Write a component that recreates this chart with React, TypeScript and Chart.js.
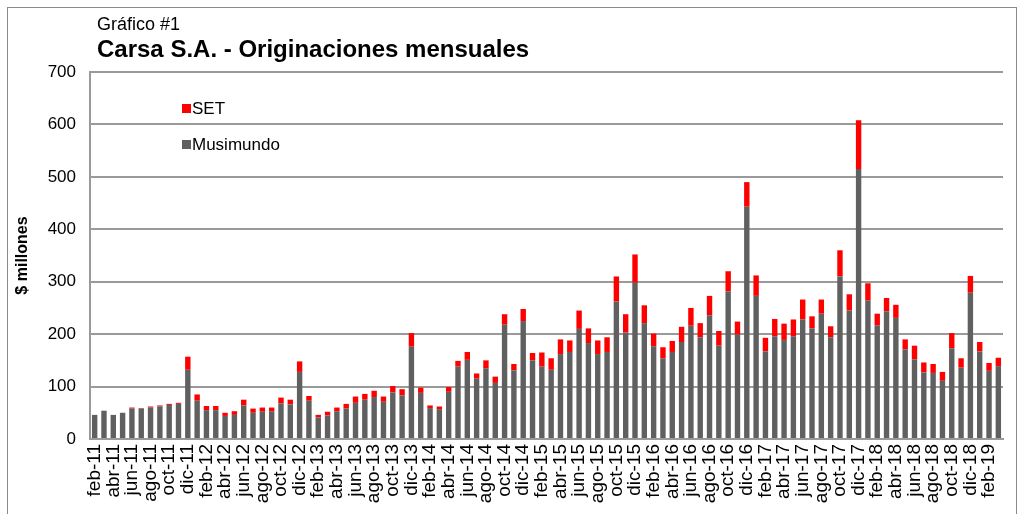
import React, { useEffect, useRef } from "react";
import { Chart, registerables } from "chart.js";

Chart.register(...registerables);

const months: string[] = [
  "feb-11","mar-11","abr-11","may-11","jun-11","jul-11","ago-11","sep-11","oct-11","nov-11","dic-11",
  "ene-12","feb-12","mar-12","abr-12","may-12","jun-12","jul-12","ago-12","sep-12","oct-12","nov-12","dic-12",
  "ene-13","feb-13","mar-13","abr-13","may-13","jun-13","jul-13","ago-13","sep-13","oct-13","nov-13","dic-13",
  "ene-14","feb-14","mar-14","abr-14","may-14","jun-14","jul-14","ago-14","sep-14","oct-14","nov-14","dic-14",
  "ene-15","feb-15","mar-15","abr-15","may-15","jun-15","jul-15","ago-15","sep-15","oct-15","nov-15","dic-15",
  "ene-16","feb-16","mar-16","abr-16","may-16","jun-16","jul-16","ago-16","sep-16","oct-16","nov-16","dic-16",
  "ene-17","feb-17","mar-17","abr-17","may-17","jun-17","jul-17","ago-17","sep-17","oct-17","nov-17","dic-17",
  "ene-18","feb-18","mar-18","abr-18","may-18","jun-18","jul-18","ago-18","sep-18","oct-18","nov-18","dic-18",
  "ene-19","feb-19","mar-19"
];

const musimundo: number[] = [
  46,54,46,50,58,58,60,62,65,67,132,73,55,55,
  44,46,64,50,52,53,68,66,128,73,41,45,53,58,
  69,75,80,71,89,83,176,88,59,57,90,138,151,115,
  135,107,218,131,225,150,138,132,162,166,210,183,162,166,
  262,203,298,221,177,154,166,185,216,194,236,178,282,199,
  443,273,167,196,189,196,228,211,239,194,310,245,515,264,
  217,243,231,171,152,127,126,111,173,136,279,167,130,139
];

const setValues: number[] = [
  0,0,0,0,2,1,2,2,2,2,25,12,8,8,
  6,7,11,8,8,7,11,9,20,9,5,7,7,9,
  12,11,12,10,12,12,26,10,5,5,9,11,15,10,
  15,12,20,12,23,14,27,22,28,22,35,28,26,28,
  48,35,54,34,24,21,21,29,34,27,37,28,38,25,
  47,39,26,33,31,32,38,23,27,21,50,31,93,33,
  22,26,25,19,26,19,17,17,29,18,32,18,15,16
];

const yTicks: number[] = [0, 100, 200, 300, 400, 500, 600, 700];

const GRAY = "#606060";
const RED = "#ff0000";
const GRID = "#9a9a9a";
const FONT = "'Liberation Sans', Arial, sans-serif";

const overlayPlugin = {
  id: "overlay",
  afterDraw(chart: any) {
    const { ctx, chartArea } = chart;
    ctx.save();
    ctx.fillStyle = "#000";
    ctx.textBaseline = "alphabetic";
    ctx.textAlign = "left";
    ctx.font = `18px ${FONT}`;
    ctx.fillText("Gráfico #1", chartArea.left + 7, 22);
    ctx.font = `bold 24px ${FONT}`;
    ctx.fillText("Carsa S.A. - Originaciones mensuales", chartArea.left + 7, 49);

    // legend (SET above Musimundo)
    const items = [
      { label: chart.data.datasets[1].label, color: chart.data.datasets[1].backgroundColor, dy: 36 },
      { label: chart.data.datasets[0].label, color: chart.data.datasets[0].backgroundColor, dy: 72 },
    ];
    ctx.font = `17px ${FONT}`;
    ctx.textBaseline = "middle";
    for (const it of items) {
      const x = chartArea.left + 92;
      const y = chartArea.top + it.dy;
      ctx.fillStyle = it.color;
      ctx.fillRect(x, y - 4, 9, 9);
      ctx.fillStyle = "#000";
      ctx.fillText(it.label, x + 10, y + 1);
    }
    ctx.restore();
  },
};

export default function App() {
  const ref = useRef<HTMLCanvasElement | null>(null);

  useEffect(() => {
    if (!ref.current) return;
    const chart = new Chart(ref.current, {
      type: "bar",
      data: {
        labels: months,
        datasets: [
          { label: "Musimundo", data: musimundo, backgroundColor: GRAY, barPercentage: 0.58, categoryPercentage: 1 },
          { label: "SET", data: setValues, backgroundColor: RED, barPercentage: 0.58, categoryPercentage: 1 },
        ],
      },
      options: {
        animation: false,
        responsive: false,
        maintainAspectRatio: false,
        layout: { padding: { top: 64, right: 13, left: 0, bottom: 0 } },
        plugins: {
          legend: { display: false },
          title: { display: false },
          tooltip: { enabled: false },
        },
        scales: {
          x: {
            stacked: true,
            grid: { display: false, drawTicks: false },
            border: { display: true, color: GRID, width: 2 },
            ticks: {
              autoSkip: false,
              minRotation: 90,
              maxRotation: 90,
              padding: 5,
              color: "#000",
              font: { family: FONT, size: 19 },
              callback: (_v: any, i: number) => (i % 2 === 0 ? months[i] : ""),
            },
            afterFit: (s: any) => {
              s.height = 75;
              s.paddingLeft = 0;
              s.paddingRight = 0;
            },
          },
          y: {
            stacked: true,
            min: 0,
            max: 700,
            afterBuildTicks: (s: any) => { s.ticks = yTicks.map((v) => ({ value: v })); },
            grid: { color: GRID, lineWidth: 2, drawTicks: false },
            border: { display: true, color: GRID, width: 2 },
            ticks: {
              padding: 14,
              color: "#000",
              font: { family: FONT, size: 17 },
            },
            title: {
              display: true,
              text: "$ millones",
              color: "#000",
              font: { family: FONT, size: 16, weight: "bold" },
              padding: { top: 5, bottom: 0 },
            },
            afterFit: (s: any) => {
              s.width = 82;
              s.paddingTop = 0;
              s.paddingBottom = 0;
            },
          },
        },
      },
      plugins: [overlayPlugin],
    } as any);
    return () => chart.destroy();
  }, []);

  return (
    <div
      style={{
        position: "fixed",
        left: 7,
        top: 7,
        width: 1010,
        height: 520,
        border: "1px solid #8a8a8a",
        boxSizing: "border-box",
        background: "#fff",
      }}
    >
      <canvas ref={ref} width={1008} height={506} style={{ display: "block" }} />
    </div>
  );
}
